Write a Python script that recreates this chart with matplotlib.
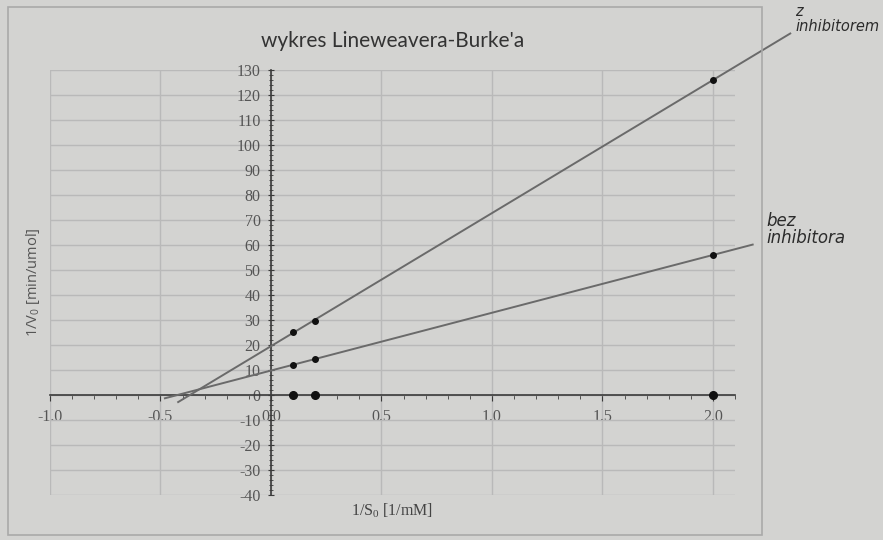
import numpy as np
import matplotlib.pyplot as plt
from matplotlib.patches import Rectangle
from matplotlib.ticker import MultipleLocator

# data
x_vals = [0.1, 0.2, 2.0]
y_bez_inhibitora = [12, 14.5, 56]
y_z_inhibitorem = [25.3, 29.7, 126]
y_zero = [0, 0, 0]

# x-extent of the drawn straight lines
line_x_bez = [-0.48, 2.18]
line_x_z = [-0.42, 2.35]

title = "wykres Lineweavera-Burke'a"
xlabel = "1/S$_0$ [1/mM]"
ylabel = "1/V$_0$ [min/umol]"

bg = "#d3d3d1"
plt.rcParams["mathtext.default"] = "regular"
plt.rcParams["axes.unicode_minus"] = False

fig = plt.figure(figsize=(8.83, 5.4), dpi=100, facecolor=bg)
ax = fig.add_axes([50 / 883, 45 / 540, 685 / 883, 425 / 540], facecolor=bg)

ax.set_xlim(-1.0, 2.1)
ax.set_ylim(-40, 130)

# axes cross at the origin
ax.spines["left"].set_position(("data", 0))
ax.spines["bottom"].set_position(("data", 0))
ax.spines["right"].set_visible(False)
ax.spines["top"].set_visible(False)
for s in ("left", "bottom"):
    ax.spines[s].set_color("#3a3a3a")
    ax.spines[s].set_linewidth(1.2)

ax.xaxis.set_major_locator(MultipleLocator(0.5))
ax.xaxis.set_minor_locator(MultipleLocator(0.1))
ax.yaxis.set_major_locator(MultipleLocator(10))
ax.yaxis.set_minor_locator(MultipleLocator(2))
ax.grid(True, which="major", color="#b9b9b9", linewidth=1.0)
ax.set_axisbelow(True)

ax.xaxis.set_major_formatter(lambda v, p: f"{v:.1f}")
ax.tick_params(axis="x", which="both", direction="out", colors="#3a3a3a",
               labelcolor="#555555", labelsize=11.5)
ax.tick_params(axis="x", which="major", length=4)
ax.tick_params(axis="x", which="minor", length=3)
ax.tick_params(axis="x", pad=6)
ax.tick_params(axis="y", which="both", direction="inout", colors="#3a3a3a",
               labelcolor="#555555", labelsize=11.5)
ax.tick_params(axis="y", which="major", length=5, pad=5)
ax.tick_params(axis="y", which="minor", length=3)
for lab in ax.get_xticklabels() + ax.get_yticklabels():
    lab.set_family("Liberation Serif")

# fitted straight lines through the points
for xs, ys, ext in [(x_vals, y_bez_inhibitora, line_x_bez),
                    (x_vals, y_z_inhibitorem, line_x_z)]:
    k, b = np.polyfit(xs, ys, 1)
    xx = np.array(ext)
    ax.plot(xx, k * xx + b, color="#6a6a6a", linewidth=1.4, clip_on=False, zorder=3)

ax.plot(x_vals, y_bez_inhibitora, "o", color="#111111", markersize=4, zorder=4)
ax.plot(x_vals, y_z_inhibitorem, "o", color="#111111", markersize=4, zorder=4)
ax.plot(x_vals, y_zero, "o", color="#111111", markersize=5.5, zorder=4, clip_on=False)

ax.set_title(title, family="Lato", fontsize=15, color="#333333", y=1.035)
ax.set_xlabel(xlabel, family="Liberation Serif", fontsize=11.5, color="#444444")
ax.set_ylabel(ylabel, family="Open Sans", fontsize=10.5, color="#555555")
ax.xaxis.set_label_coords(0.5, -0.015)
ax.yaxis.set_label_coords(-0.012, 0.5)

# chart frame
fig.patches.append(Rectangle((8 / 883, 5 / 540), 754 / 883, 528 / 540,
                             transform=fig.transFigure, fill=False,
                             edgecolor="#a9a9a9", linewidth=1.2))

# handwritten notes
fig.text(795 / 883, 1 - 4 / 540, "z\ninhibitorem", fontsize=10.5, style="italic",
         color="#2b2b2b", va="top", ha="left", linespacing=1.0)
fig.text(766 / 883, 1 - 212 / 540, "bez\ninhibitora", fontsize=12, style="italic",
         color="#2b2b2b", va="top", ha="left", linespacing=0.95)

fig.savefig("out.png", dpi=100, facecolor=bg)
